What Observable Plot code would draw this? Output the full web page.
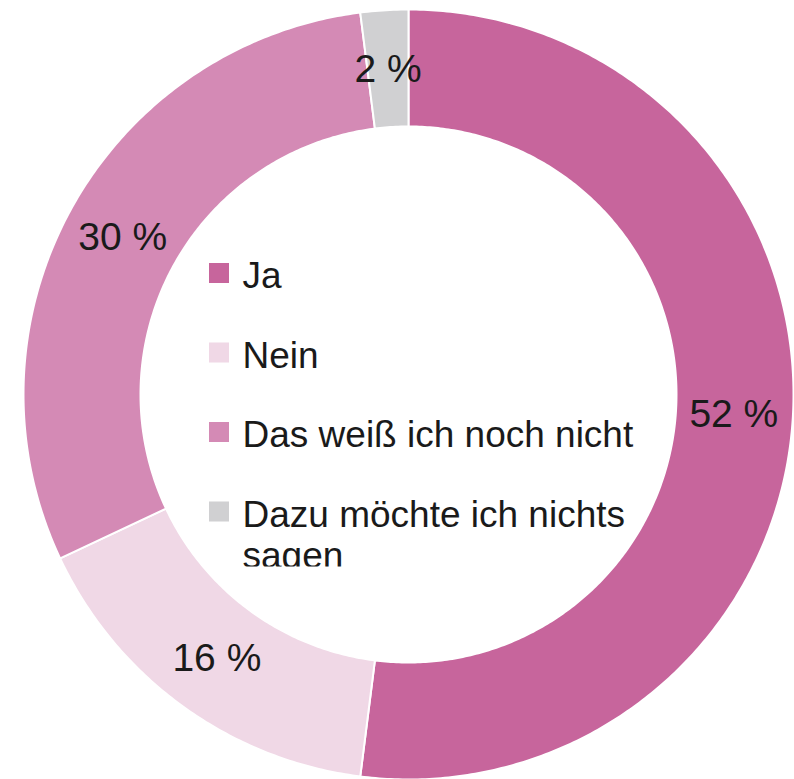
<!DOCTYPE html>
<html>
<head>
<meta charset="utf-8">
<script src="https://cdn.jsdelivr.net/npm/d3@7"></script>
<script src="https://cdn.jsdelivr.net/npm/@observablehq/plot@0.6"></script>
<style>
  html, body { margin: 0; padding: 0; background: #fff; }
  #chart svg { display: block; }
</style>
</head>
<body>
<div id="chart"></div>
<script>
// ---- data ----
const categories = ["Ja", "Nein", "Das weiß ich noch nicht", "Dazu möchte ich nichts sagen"];
const values = [52, 16, 30, 2];
const labels = ["52 %", "16 %", "30 %", "2 %"];
const colors = ["#c7659c", "#f0d8e6", "#d48ab5", "#d0d0d2"];

// ---- layout constants ----
const W = 794, H = 779;
const cx = 408, cy = 394;
const R = 385, r = 268, rLabel = 326;
const font = "'Liberation Sans', Arial, Helvetica, sans-serif";

const rows = categories.map((c, i) => ({category: c, value: values[i], label: labels[i]}));
const arcs = d3.pie().sort(null).value(d => d.value)(rows);

// polygon outlines of each ring segment (pixel offsets from the centre)
const ringPts = [];
arcs.forEach(a => {
  const n = Math.max(4, Math.ceil((a.endAngle - a.startAngle) / 0.01));
  const outer = d3.range(n + 1).map(k => a.startAngle + (a.endAngle - a.startAngle) * k / n);
  outer.forEach(t => ringPts.push({category: a.data.category, x: R * Math.sin(t), y: -R * Math.cos(t)}));
  outer.slice().reverse().forEach(t => ringPts.push({category: a.data.category, x: r * Math.sin(t), y: -r * Math.cos(t)}));
});

const labelPts = arcs.map(a => {
  const m = (a.startAngle + a.endAngle) / 2;
  return {label: a.data.label, x: rLabel * Math.sin(m), y: -rLabel * Math.cos(m)};
});

// legend rows inside the hole
const legTop = 263 - cy, legStep = 79.5, sq = 20, legX = 209 - cx, legTextX = 242 - cx;
const legFont = 37;
const legend = categories.map((c, i) => ({
  category: c,
  x1: legX, x2: legX + sq,
  y1: legTop + i * legStep, y2: legTop + i * legStep + sq,
  ty: legTop + i * legStep + sq / 2 - 14
}));

const chart = Plot.plot({
  width: W, height: H,
  margin: 0,
  x: {domain: [-cx, W - cx], range: [0, W], axis: null},
  y: {domain: [-cy, H - cy], range: [0, H], axis: null},
  color: {domain: categories, range: colors},
  style: {fontFamily: font, background: "#fff"},
  marks: [
    Plot.line(ringPts, {x: "x", y: "y", z: "category", fill: "category", stroke: "white", strokeWidth: 2, curve: "linear-closed"}),
    Plot.text(labelPts, {x: "x", y: "y", text: "label", fontSize: 39, fill: "#1a1a1a", textAnchor: "middle", lineAnchor: "middle"}),
    Plot.rect(legend, {x1: "x1", x2: "x2", y1: "y1", y2: "y2", fill: "category"}),
    Plot.text(legend, {x: () => legTextX, y: "ty", text: "category", fontSize: legFont, fill: "#1a1a1a", textAnchor: "start", lineAnchor: "top", lineWidth: 12.2, lineHeight: 1.1, className: "legend-text"})
  ]
});
document.getElementById("chart").appendChild(chart);

// the legend box in the original cuts its last line at the bottom of the hole area
const svg = d3.select(chart);
svg.append("defs").append("clipPath").attr("id", "legclip")
  .append("rect").attr("x", 0).attr("y", 0).attr("width", W).attr("height", 566);
svg.selectAll("g.legend-text").attr("clip-path", "url(#legclip)");
</script>
</body>
</html>
